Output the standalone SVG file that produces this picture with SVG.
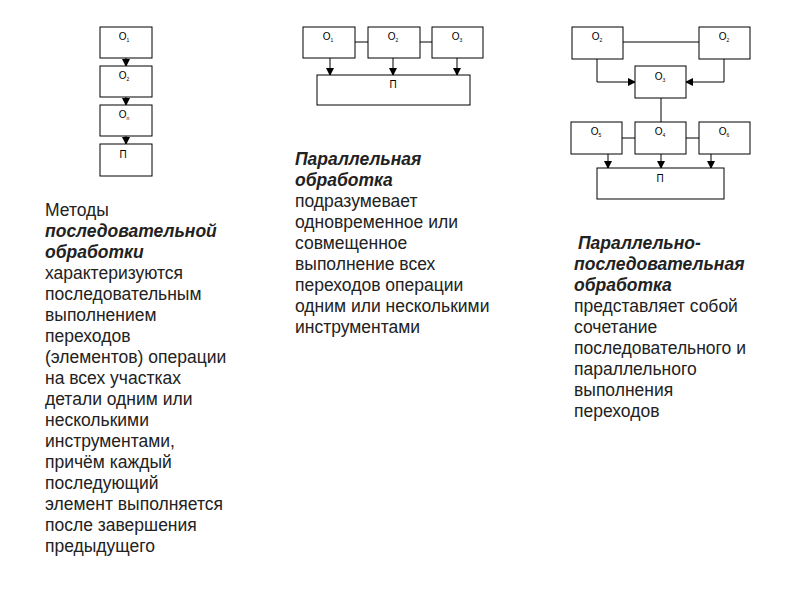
<svg xmlns="http://www.w3.org/2000/svg" width="800" height="600" viewBox="0 0 800 600">
<defs><marker id="a" markerWidth="8" markerHeight="8" refX="7" refY="4" orient="auto" markerUnits="userSpaceOnUse"><path d="M0,0 L8,4 L0,8 Z" fill="#000"/></marker></defs>
<style>
.b{fill:#fff;stroke:#000;stroke-width:1}
.l{stroke:#000;stroke-width:1;fill:none}
.t{font-family:"Liberation Sans",Arial,sans-serif;font-size:10px;fill:#000;text-anchor:middle}
.s{font-size:5px}
.p{font-family:"Liberation Sans",Arial,sans-serif;font-size:17.5px;fill:#222}
.bi{font-weight:bold;font-style:italic}
</style>
<rect width="800" height="600" fill="#fff"/>
<g id="connectors">
<path class="l" d="M126,58V66" marker-end="url(#a)"/>
<path class="l" d="M126,97V105" marker-end="url(#a)"/>
<path class="l" d="M126,136V144" marker-end="url(#a)"/>
<path class="l" d="M355,42H368M420,42H432"/>
<path class="l" d="M330,58V75" marker-end="url(#a)"/>
<path class="l" d="M393,58V75" marker-end="url(#a)"/>
<path class="l" d="M457,58V75" marker-end="url(#a)"/>
<path class="l" d="M623,42H699"/>
<path class="l" d="M597,59V82H635" marker-end="url(#a)"/>
<path class="l" d="M724,59V82H686" marker-end="url(#a)"/>
<path class="l" d="M661,98V122M622,138H635M686,138H699"/>
<path class="l" d="M608,154V168" marker-end="url(#a)"/>
<path class="l" d="M661,154V168" marker-end="url(#a)"/>
<path class="l" d="M711,154V168" marker-end="url(#a)"/>
</g>
<g id="L1"><rect class="b" x="100" y="27" width="52" height="31"/><text class="t" x="124" y="40">O<tspan class="s" dy="2">1</tspan></text></g>
<g id="L2"><rect class="b" x="100" y="66" width="52" height="31"/><text class="t" x="124" y="79">O<tspan class="s" dy="2">2</tspan></text></g>
<g id="L3"><rect class="b" x="100" y="105" width="52" height="31"/><text class="t" x="124" y="118">O<tspan class="s" dy="2">n</tspan></text></g>
<g id="L4"><rect class="b" x="100" y="144" width="52" height="32"/><text class="t" x="123" y="158">П</text></g>
<g id="M1"><rect class="b" x="303" y="27" width="52" height="31"/><text class="t" x="328" y="40">O<tspan class="s" dy="2">1</tspan></text></g>
<g id="M2"><rect class="b" x="368" y="27" width="52" height="31"/><text class="t" x="393" y="40">O<tspan class="s" dy="2">2</tspan></text></g>
<g id="M3"><rect class="b" x="432" y="27" width="51" height="31"/><text class="t" x="457" y="40">O<tspan class="s" dy="2">3</tspan></text></g>
<g id="MP"><rect class="b" x="317" y="75" width="153" height="30"/><text class="t" x="393" y="88">П</text></g>
<g id="R1"><rect class="b" x="572" y="27" width="51" height="32"/><text class="t" x="597" y="40">O<tspan class="s" dy="2">2</tspan></text></g>
<g id="R2"><rect class="b" x="699" y="27" width="51" height="32"/><text class="t" x="724" y="40">O<tspan class="s" dy="2">2</tspan></text></g>
<g id="R3"><rect class="b" x="635" y="66" width="51" height="32"/><text class="t" x="660" y="80">O<tspan class="s" dy="2">3</tspan></text></g>
<g id="R5"><rect class="b" x="571" y="122" width="51" height="32"/><text class="t" x="596" y="135">O<tspan class="s" dy="2">5</tspan></text></g>
<g id="R4"><rect class="b" x="635" y="122" width="51" height="32"/><text class="t" x="660" y="135">O<tspan class="s" dy="2">4</tspan></text></g>
<g id="R6"><rect class="b" x="699" y="122" width="51" height="32"/><text class="t" x="724" y="135">O<tspan class="s" dy="2">6</tspan></text></g>
<g id="RP"><rect class="b" x="597" y="168" width="127" height="31"/><text class="t" x="660" y="182">П</text></g>
<text class="p">
<tspan x="45" y="216">Методы</tspan>
<tspan x="45" y="237" class="bi">последовательной</tspan>
<tspan x="45" y="258" class="bi">обработки</tspan>
<tspan x="45" y="279">характеризуются</tspan>
<tspan x="45" y="300">последовательным</tspan>
<tspan x="45" y="321">выполнением</tspan>
<tspan x="45" y="342">переходов</tspan>
<tspan x="45" y="363">(элементов) операции</tspan>
<tspan x="45" y="384">на всех участках</tspan>
<tspan x="45" y="405">детали одним или</tspan>
<tspan x="45" y="426">несколькими</tspan>
<tspan x="45" y="447">инструментами,</tspan>
<tspan x="45" y="468">причём каждый</tspan>
<tspan x="45" y="489">последующий</tspan>
<tspan x="45" y="510">элемент выполняется</tspan>
<tspan x="45" y="531">после завершения</tspan>
<tspan x="45" y="552">предыдущего</tspan>
</text>
<text class="p">
<tspan x="295" y="165" class="bi">Параллельная</tspan>
<tspan x="295" y="186" class="bi">обработка</tspan>
<tspan x="295" y="207">подразумевает</tspan>
<tspan x="295" y="228">одновременное или</tspan>
<tspan x="295" y="249">совмещенное</tspan>
<tspan x="295" y="270">выполнение всех</tspan>
<tspan x="295" y="291">переходов операции</tspan>
<tspan x="295" y="312">одним или несколькими</tspan>
<tspan x="295" y="333">инструментами</tspan>
</text>
<text class="p">
<tspan x="578" y="249" class="bi">Параллельно-</tspan>
<tspan x="574" y="270" class="bi">последовательная</tspan>
<tspan x="574" y="291" class="bi">обработка</tspan>
<tspan x="574" y="312">представляет собой</tspan>
<tspan x="574" y="333">сочетание</tspan>
<tspan x="574" y="354">последовательного и</tspan>
<tspan x="574" y="375">параллельного</tspan>
<tspan x="574" y="396">выполнения</tspan>
<tspan x="574" y="417">переходов</tspan>
</text>
</svg>
